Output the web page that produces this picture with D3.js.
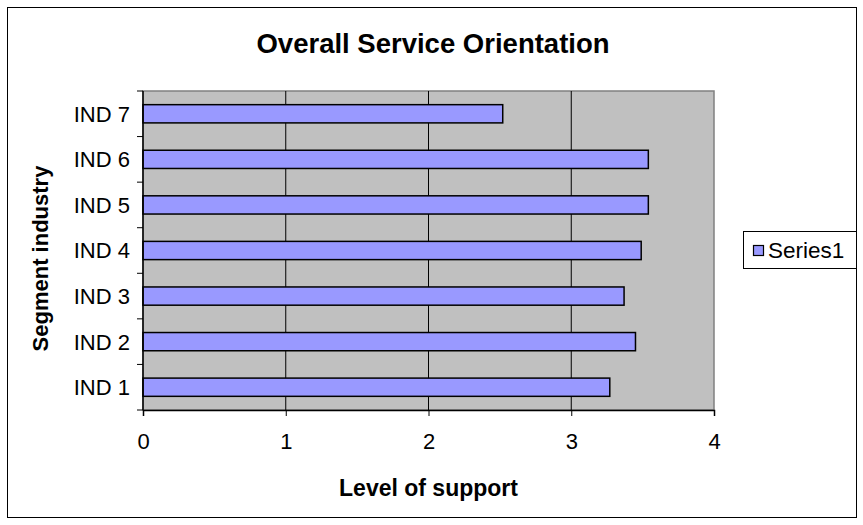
<!DOCTYPE html>
<html>
<head>
<meta charset="utf-8">
<script src="https://cdn.jsdelivr.net/npm/d3@7"></script>
<style>
	body { margin: 0; background: #fff; }
	text { font-family: "Liberation Sans", Arial, sans-serif; }
</style>
</head>
<body>
<script>
'use strict';
(function() {
	//Data
	var categories = ['IND 1','IND 2','IND 3','IND 4','IND 5','IND 6','IND 7'];
	var values = [3.27, 3.45, 3.37, 3.49, 3.54, 3.54, 2.52];
	var xTicks = [0, 1, 2, 3, 4];
	var seriesName = 'Series1';

	var W = 863, H = 525;
	var plot = {left: 143, right: 714, top: 91, bottom: 410};

	var svg = d3.select('body').append('svg')
		.attr('width', W)
		.attr('height', H);

	//Outer chart border
	svg.append('rect')
		.attr('x', 7.5).attr('y', 7.5)
		.attr('width', 849).attr('height', 510)
		.attr('fill', '#fff')
		.attr('stroke', '#000')
		.attr('stroke-width', 1);

	//Scales
	var x = d3.scaleLinear().domain([0, 4]).range([plot.left, plot.right]);
	var y = d3.scaleBand()
		.domain(categories.slice().reverse())
		.range([plot.top, plot.bottom])
		.paddingInner(0.6).paddingOuter(0.3);

	//Plot background
	svg.append('rect')
		.attr('x', plot.left).attr('y', plot.top)
		.attr('width', plot.right - plot.left)
		.attr('height', plot.bottom - plot.top)
		.attr('fill', '#c0c0c0')
		.attr('stroke', '#808080')
		.attr('stroke-width', 1.5);

	//Gridlines
	svg.append('g').selectAll('line')
		.data(xTicks.slice(1, -1))
		.enter().append('line')
			.attr('x1', function(d) { return x(d); })
			.attr('x2', function(d) { return x(d); })
			.attr('y1', plot.top).attr('y2', plot.bottom)
			.attr('stroke', '#000')
			.attr('stroke-width', 1);

	//Bars
	svg.append('g').selectAll('rect')
		.data(categories)
		.enter().append('rect')
			.attr('x', x(0))
			.attr('y', function(d) { return y(d); })
			.attr('width', function(d, i) { return x(values[i]) - x(0); })
			.attr('height', y.bandwidth())
			.attr('fill', '#9999ff')
			.attr('stroke', '#000')
			.attr('stroke-width', 1.5);

	//X axis
	var xAxis = svg.append('g')
		.attr('transform', 'translate(0,' + plot.bottom + ')')
		.call(d3.axisBottom(x).tickValues(xTicks).tickFormat(d3.format('d'))
			.tickSize(6).tickPadding(17));
	xAxis.select('.domain').attr('stroke', '#000').attr('stroke-width', 1.5);
	xAxis.selectAll('text').style('font-size', '22px').attr('fill', '#000');

	//Y axis: ticks between categories
	var yAxisG = svg.append('g')
		.attr('transform', 'translate(' + plot.left + ',0)');
	yAxisG.append('line')
		.attr('x1', 0).attr('x2', 0)
		.attr('y1', plot.top).attr('y2', plot.bottom)
		.attr('stroke', '#000').attr('stroke-width', 1.5);
	var bounds = d3.range(categories.length + 1).map(function(i) { return plot.top + i * (plot.bottom - plot.top) / categories.length; });
	yAxisG.selectAll('line.tick')
		.data(bounds)
		.enter().append('line')
			.classed('tick', true)
			.attr('x1', -6).attr('x2', 0)
			.attr('y1', function(d) { return d; })
			.attr('y2', function(d) { return d; })
			.attr('stroke', '#000');
	yAxisG.selectAll('text')
		.data(categories)
		.enter().append('text')
			.attr('x', -13)
			.attr('y', function(d) { return y(d) + y.bandwidth() / 2; })
			.attr('dy', '0.36em')
			.attr('text-anchor', 'end')
			.style('font-size', '22px')
			.text(function(d) { return d; });

	//Title
	svg.append('text')
		.attr('x', 433).attr('y', 53)
		.attr('text-anchor', 'middle')
		.style('font-size', '27.5px').style('font-weight', 'bold')
		.text('Overall Service Orientation');

	//Axis titles
	svg.append('text')
		.attr('x', x(2)).attr('y', 496)
		.attr('text-anchor', 'middle')
		.style('font-size', '23px').style('font-weight', 'bold')
		.text('Level of support');
	svg.append('text')
		.attr('transform', 'translate(48,' + ((plot.top + plot.bottom) / 2 + 8) + ') rotate(-90)')
		.attr('text-anchor', 'middle')
		.style('font-size', '22px').style('font-weight', 'bold')
		.text('Segment industry');

	//Legend
	var legend = svg.append('g').attr('transform', 'translate(743,231)');
	legend.append('rect')
		.attr('x', 0.5).attr('y', 0.5)
		.attr('width', 113).attr('height', 37)
		.attr('fill', '#fff').attr('stroke', '#000');
	legend.append('rect')
		.attr('x', 10.5).attr('y', 14.5)
		.attr('width', 10).attr('height', 10)
		.attr('fill', '#9999ff').attr('stroke', '#000').attr('stroke-width', 1.2);
	legend.append('text')
		.attr('x', 25).attr('y', 27)
		.style('font-size', '22.5px')
		.text(seriesName);
})();
</script>
</body>
</html>
